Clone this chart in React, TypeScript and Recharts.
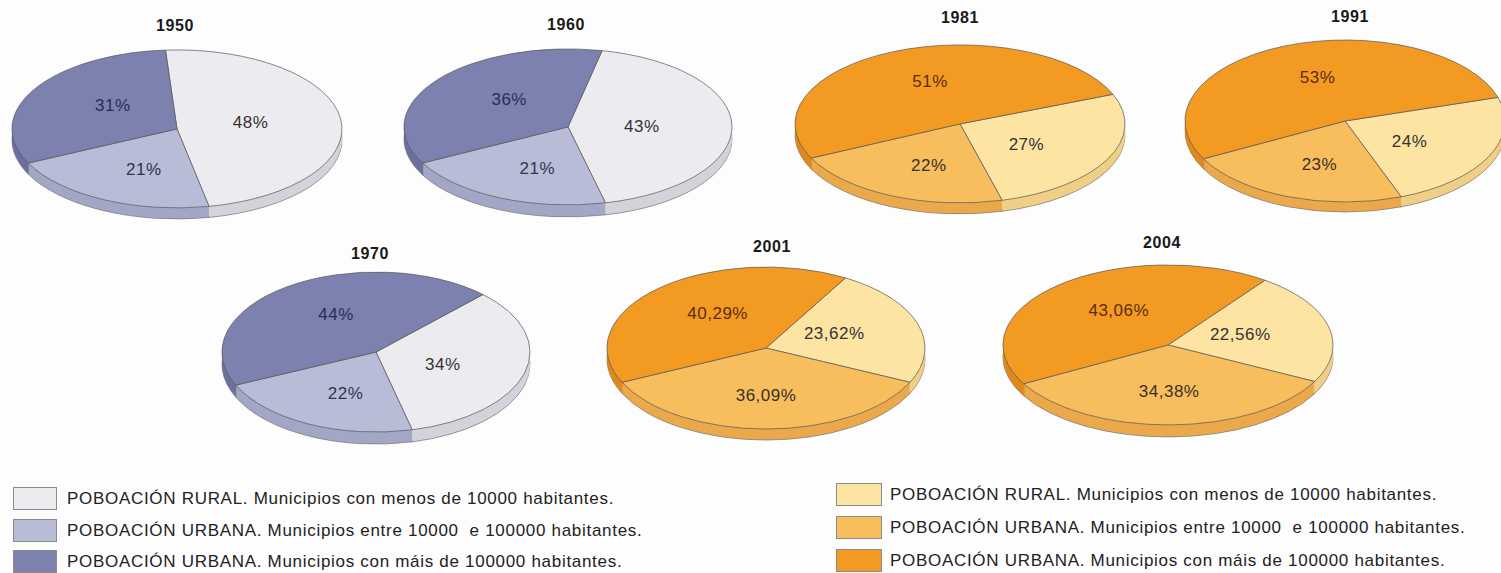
import React from 'react';
import { PieChart, Pie, Cell } from 'recharts';

// population share by municipality size (Galicia)
const years = ['1950', '1960', '1970', '1981', '1991', '2001', '2004'];
const rural = [48, 43, 34, 27, 24, 23.62, 22.56];
const urbanMid = [21, 21, 22, 22, 23, 36.09, 34.38];
const urbanBig = [31, 36, 44, 51, 53, 40.29, 43.06];

const legendLabels = [
  'POBOACIÓN RURAL. Municipios con menos de 10000 habitantes.',
  'POBOACIÓN URBANA. Municipios entre 10000  e 100000 habitantes.',
  'POBOACIÓN URBANA. Municipios con máis de 100000 habitantes.',
];

// colours: [rural, urbanMid, urbanBig]
const palettes: Record<string, { top: string[]; side: string[]; text: string[] }> = {
  blue: {
    top: ['#ecebf0', '#b9bcd7', '#7d81b0'],
    side: ['#d3d3db', '#a3a7c6', '#6c70a0'],
    text: ['#333333', '#33344a', '#2b2d52'],
  },
  orange: {
    top: ['#fde4a3', '#f8bd5d', '#f39a22'],
    side: ['#f0cf86', '#eba94b', '#e0891c'],
    text: ['#333333', '#3a3026', '#5a2d10'],
  },
};

// layout of each pie (top face ellipse in page px), same order as years
const pieLayout = [
  { cx: 177, cy: 129, rx: 165, ry: 79, depth: 11, start: 94, tx: 175, ty: 26, pal: 'blue' },
  { cx: 568, cy: 127, rx: 164, ry: 78, depth: 12, start: 78, tx: 566, ty: 25, pal: 'blue' },
  { cx: 376, cy: 352, rx: 154, ry: 80, depth: 12, start: 46, tx: 370, ty: 254, pal: 'blue' },
  { cx: 960, cy: 124, rx: 165, ry: 79, depth: 11, start: 22, tx: 960, ty: 18, pal: 'orange' },
  { cx: 1345, cy: 121, rx: 160, ry: 81, depth: 10, start: 17, tx: 1350, ty: 17, pal: 'orange' },
  { cx: 766, cy: 348, rx: 159, ry: 81, depth: 11, start: 60, tx: 772, ty: 247, pal: 'orange' },
  { cx: 1168, cy: 345, rx: 165, ry: 80, depth: 12, start: 54, tx: 1162, ty: 243, pal: 'orange' },
];

const RADIAN = Math.PI / 180;
const PAD = 4;
const FONT = '"Liberation Sans", Arial, Helvetica, sans-serif';

const fmt = (v: number) => (Number.isInteger(v) ? String(v) : v.toFixed(2).replace('.', ',')) + '%';

function Pie3D({ idx }: { idx: number }) {
  const lay = pieLayout[idx];
  const pal = palettes[lay.pal];
  const k = lay.ry / lay.rx;
  const hub = lay.rx + PAD;
  const size = hub * 2;
  const extra = lay.depth / k + 4;
  const data = [
    { name: 'rural', value: rural[idx] },
    { name: 'urbanMid', value: urbanMid[idx] },
    { name: 'urbanBig', value: urbanBig[idx] },
  ];
  const layers: number[] = [];
  for (let d = lay.depth; d >= 1; d--) layers.push(d);

  const renderLabel = (props: any) => {
    const { cx, cy, midAngle, outerRadius, index } = props;
    // labels sit a bit closer to the hub horizontally, a bit further out vertically
    const x = cx + outerRadius * 0.45 * Math.cos(-midAngle * RADIAN);
    const y = cy + outerRadius * 0.58 * Math.sin(-midAngle * RADIAN);
    return (
      <text
        x={x}
        y={y}
        transform={`translate(${x} ${y}) scale(1 ${1 / k}) translate(${-x} ${-y})`}
        textAnchor="middle"
        dominantBaseline="central"
        fill={pal.text[index]}
        fontSize={17}
        letterSpacing={0.5}
        fontFamily={FONT}
      >
        {fmt(data[index].value)}
      </text>
    );
  };

  return (
    <>
      <div
        style={{
          position: 'absolute',
          left: lay.tx,
          top: lay.ty,
          transform: 'translate(-50%, -50%)',
          fontFamily: FONT,
          fontWeight: 700,
          fontSize: 16,
          letterSpacing: 0.6,
          color: '#1a1a1a',
        }}
      >
        {years[idx]}
      </div>
      <div
        style={{
          position: 'absolute',
          left: lay.cx - hub,
          top: lay.cy - hub * k,
          width: size,
          height: size + extra,
          transform: `scaleY(${k})`,
          transformOrigin: '0 0',
        }}
      >
        <PieChart width={size} height={size + extra} margin={{ top: 0, right: 0, bottom: 0, left: 0 }}>
          {layers.map((d) => (
            <Pie
              key={'side' + d}
              data={data}
              dataKey="value"
              cx={hub}
              cy={hub + d / k}
              outerRadius={lay.rx}
              startAngle={lay.start}
              endAngle={lay.start - 360}
              stroke={d === lay.depth ? '#777777' : 'none'}
              strokeWidth={d === lay.depth ? 1 : 0}
              label={false}
              labelLine={false}
              isAnimationActive={false}
            >
              {data.map((e, i) => (
                <Cell key={e.name} fill={pal.side[i]} />
              ))}
            </Pie>
          ))}
          <Pie
            data={data}
            dataKey="value"
            cx={hub}
            cy={hub}
            outerRadius={lay.rx}
            startAngle={lay.start}
            endAngle={lay.start - 360}
            stroke="#5e5e5e"
            strokeWidth={1}
            label={renderLabel}
            labelLine={false}
            isAnimationActive={false}
          >
            {data.map((e, i) => (
              <Cell key={e.name} fill={pal.top[i]} />
            ))}
          </Pie>
        </PieChart>
      </div>
    </>
  );
}

function Legend({ left, textLeft, tops, w, h, colors }: any) {
  return (
    <>
      {legendLabels.map((label, i) => (
        <React.Fragment key={label}>
          <div
            style={{
              position: 'absolute',
              left,
              top: tops[i],
              width: w,
              height: h,
              boxSizing: 'border-box',
              background: colors[i],
              border: '1px solid #8a8a8a',
            }}
          />
          <div
            style={{
              position: 'absolute',
              left: textLeft,
              top: tops[i] + h / 2,
              transform: 'translateY(-50%)',
              fontFamily: FONT,
              fontSize: 17,
              letterSpacing: 0.7,
              color: '#222222',
              whiteSpace: 'pre',
            }}
          >
            {label}
          </div>
        </React.Fragment>
      ))}
    </>
  );
}

export default function App() {
  return (
    <div
      style={{
        position: 'absolute',
        left: 0,
        top: 0,
        width: 1501,
        height: 573,
        overflow: 'hidden',
        background: '#fdfdfd',
      }}
    >
      {years.map((y, i) => (
        <Pie3D key={y} idx={i} />
      ))}
      <Legend left={13} textLeft={67} tops={[487, 519, 550]} w={44} h={23} colors={palettes.blue.top} />
      <Legend left={836} textLeft={890} tops={[483, 516, 549]} w={46} h={23} colors={palettes.orange.top} />
    </div>
  );
}
